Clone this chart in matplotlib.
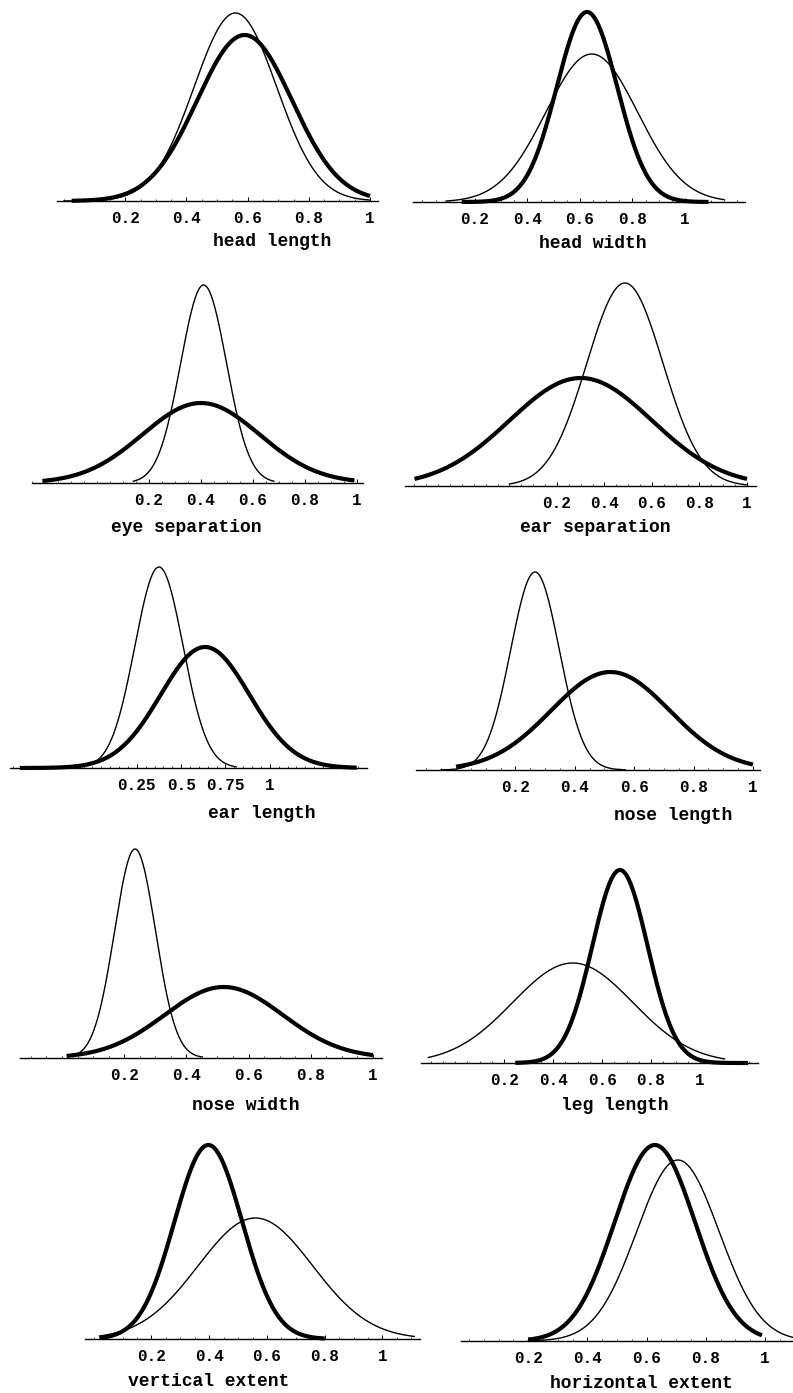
import numpy as np
import matplotlib.pyplot as plt
from matplotlib.ticker import MultipleLocator

# ---------------------------------------------------------------------------
# data: one panel per feature, two bell curves each (thin / thick)
# ---------------------------------------------------------------------------
features = ["head length", "head width", "eye separation", "ear separation",
            "ear length", "nose length", "nose width", "leg length",
            "vertical extent", "horizontal extent"]

# thin curve: mean, sd, peak height (panel height = 200), drawn range
thin_mean = [0.56, 0.645, 0.41, 0.486, 0.375, 0.266, 0.235, 0.48, 0.56, 0.706]
thin_sd = [0.135, 0.175, 0.088, 0.16, 0.136, 0.082, 0.066, 0.245, 0.198, 0.139]
thin_peak = [188, 148, 198, 203, 201, 198, 209, 100, 121, 181]
thin_range = [(0.0, 1.0), (0.09, 1.15), (0.14, 0.68), (0.0, 1.0), (-0.09, 0.81),
              (-0.05, 0.57), (0.04, 0.45), (-0.11, 1.1), (0.02, 1.11), (0.2, 1.095)]

# thick curve
thick_mean = [0.59, 0.627, 0.40, 0.30, 0.635, 0.52, 0.52, 0.673, 0.397, 0.628]
thick_sd = [0.155, 0.115, 0.225, 0.30, 0.25, 0.20, 0.19, 0.113, 0.117, 0.136]
thick_peak = [166, 190, 80, 108, 121, 98, 71, 193, 194, 196]
thick_range = [(0.025, 1.0), (0.15, 1.09), (-0.21, 0.99), (-0.40, 1.0), (-0.41, 1.49),
               (0.0, 1.0), (0.015, 1.0), (0.245, 1.196), (0.02, 0.80), (0.2, 0.99)]

ticks_std = [0.2, 0.4, 0.6, 0.8, 1.0]
labels_std = ["0.2", "0.4", "0.6", "0.8", "1"]
ticks_ear = [0.25, 0.5, 0.75, 1.0]
labels_ear = ["0.25", "0.5", "0.75", "1"]

# ---------------------------------------------------------------------------
# layout (pixels in the 793x1393 page)
# ---------------------------------------------------------------------------
W, H = 793, 1393
PANEL_H = 200
axis_px = [(57, 378, 201), (413, 745, 202), (32, 363, 483), (405, 756, 486),
           (10, 367, 768), (416, 760, 770), (20, 382, 1058), (421, 758, 1063),
           (85, 420, 1339), (461, 793, 1341)]
xlims = [(-0.023, 1.026), (-0.036, 1.229), (-0.25, 1.023), (-0.44, 1.038),
         (-0.465, 1.548), (-0.135, 1.024), (-0.135, 1.029), (-0.14, 1.237),
         (-0.03, 1.13), (-0.027, 1.095)]
label_px = [(272, 242), (593, 243), (186, 527), (595, 528), (262, 813),
            (673, 815), (246, 1105), (615, 1106), (209, 1382), (641, 1383)]

FONT = "Liberation Mono"


def bell(lo, hi, m, s, peak):
    x = np.linspace(lo, hi, 400)
    return x, peak * np.exp(-0.5 * ((x - m) / s) ** 2)


fig = plt.figure(figsize=(W / 100, H / 100), dpi=100)

for i in range(10):
    x0, x1, yb = axis_px[i]
    ax = fig.add_axes([x0 / W, 1 - yb / H, (x1 - x0) / W, PANEL_H / H])
    ax.set_xlim(*xlims[i])
    ax.set_ylim(0, PANEL_H)

    x, y = bell(*thin_range[i], thin_mean[i], thin_sd[i], thin_peak[i])
    ax.plot(x, y, color="black", lw=1.0, clip_on=False)
    x, y = bell(*thick_range[i], thick_mean[i], thick_sd[i], thick_peak[i])
    ax.plot(x, y, color="black", lw=3.0, clip_on=False, solid_capstyle="butt")

    for sp in ["top", "left", "right"]:
        ax.spines[sp].set_visible(False)
    ax.spines["bottom"].set_linewidth(1.0)
    ax.set_yticks([])

    if i == 4:
        ax.set_xticks(ticks_ear, labels_ear)
    else:
        ax.set_xticks(ticks_std, labels_std)
    ax.xaxis.set_minor_locator(MultipleLocator(0.05))
    ax.tick_params(axis="x", which="major", direction="in", length=3, width=0.7, pad=7)
    ax.tick_params(axis="x", which="minor", direction="in", length=1.5, width=0.5)
    for t in ax.get_xticklabels():
        t.set_fontfamily(FONT)
        t.set_fontweight("bold")
        t.set_fontsize(11.5)
    ax.patch.set_alpha(0)

    lx, ly = label_px[i]
    fig.text(lx / W, 1 - ly / H, features[i], ha="center", va="center",
             family=FONT, fontweight="bold", fontsize=13)

fig.savefig("out.png", dpi=100)
